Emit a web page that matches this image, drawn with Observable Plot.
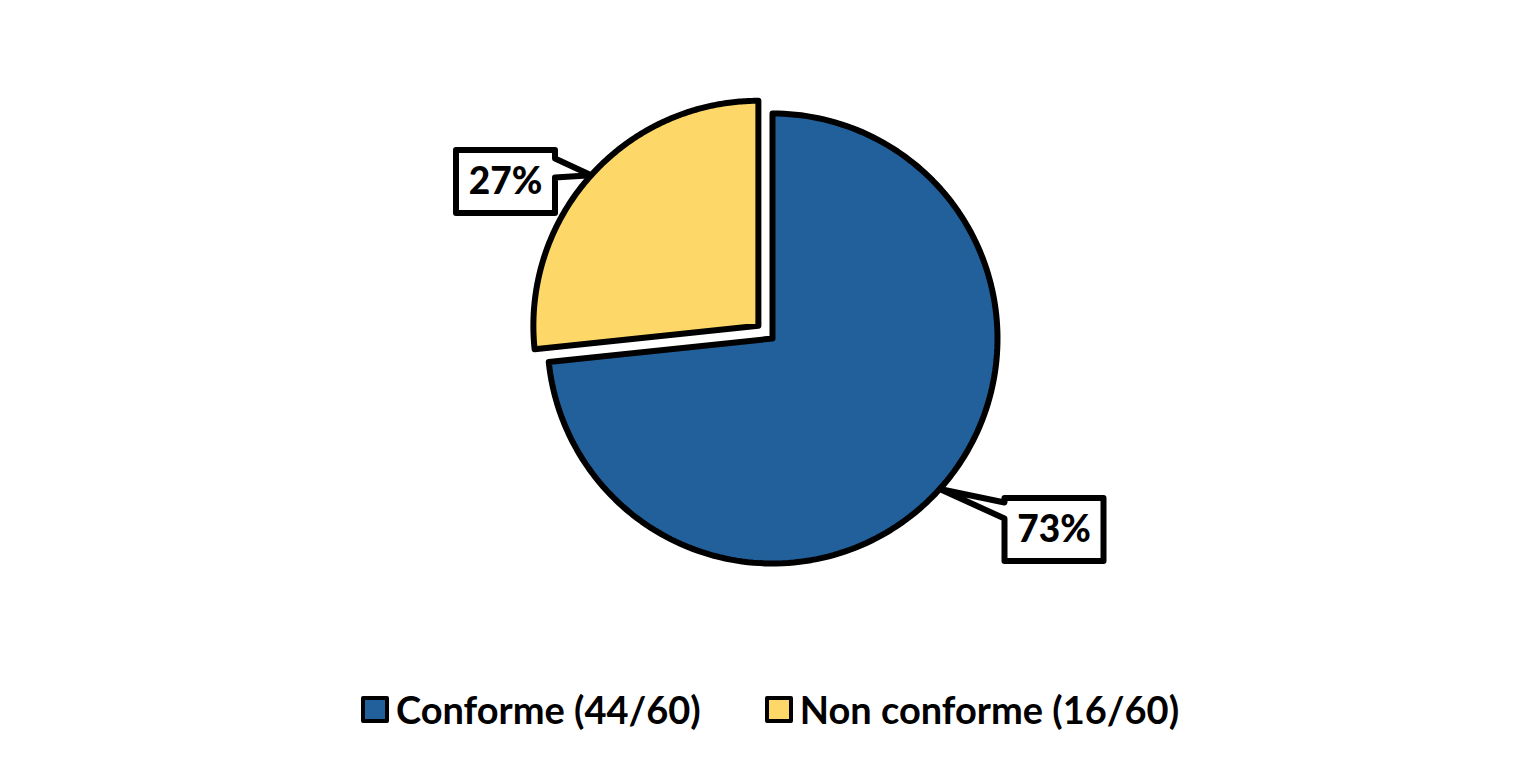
<!DOCTYPE html>
<html>
<head>
<meta charset="utf-8">
<script src="https://cdn.jsdelivr.net/npm/d3@7"></script>
<script src="https://cdn.jsdelivr.net/npm/@observablehq/plot@0.6"></script>
<style>
  html, body { margin: 0; padding: 0; background: #fff; }
  body { width: 1540px; height: 776px; overflow: hidden; font-family: Lato, "Open Sans", sans-serif; }
  #legend { display: flex; justify-content: center; align-items: center; margin-top: 30px; height: 38px; font-size: 38px; font-weight: bold; color: #000; }
  .item { display: flex; align-items: center; margin: 0 32px; }
  .sw { width: 20px; height: 19px; border: 4.5px solid #000; border-radius: 2px; margin-right: 7px; }
</style>
</head>
<body>
<div id="chart"></div>
<div id="legend"></div>
<script>
// ---- data ----
const categories = ["Conforme (44/60)", "Non conforme (16/60)"];
const values = [44, 16];
const pctLabels = ["73%", "27%"];
const colors = ["#22609b", "#fdd868"];

// ---- layout ----
const W = 1540, H = 660;
const cx = 772, cy = 338, R = 225;
const explode = [0, 19];
const labelCenters = [[1053.5, 529], [505, 181]];
const boxW = 99, boxH = 63;
const wedgeBase = [[-27, -11], [-23, -4]];

const arcs = d3.pie().sort(null)(values);
const slicePts = [];
const calloutPts = [];
const labels = [];
arcs.forEach((a, i) => {
  const mid = (a.startAngle + a.endAngle) / 2;
  const ox = cx + explode[i] * Math.sin(mid), oy = cy - explode[i] * Math.cos(mid);
  slicePts.push({k: i, x: ox, y: oy});
  const n = 180;
  for (let j = 0; j <= n; j++) {
    const t = a.startAngle + (a.endAngle - a.startAngle) * j / n;
    slicePts.push({k: i, x: ox + R * Math.sin(t), y: oy - R * Math.cos(t)});
  }
  const tip = [ox + R * Math.sin(mid), oy - R * Math.cos(mid)];
  const [lx, ly] = labelCenters[i];
  const x1 = lx - boxW / 2, x2 = lx + boxW / 2, y1 = ly - boxH / 2, y2 = ly + boxH / 2;
  const [b1, b2] = wedgeBase[i];
  let poly;
  if (tip[0] < x1) {
    poly = [[x1, y1], [x2, y1], [x2, y2], [x1, y2], [x1, ly + b2], tip, [x1, ly + b1]];
  } else {
    poly = [[x1, y1], [x2, y1], [x2, ly + b1], tip, [x2, ly + b2], [x2, y2], [x1, y2]];
  }
  poly.forEach(p => calloutPts.push({k: i, x: p[0], y: p[1]}));
  labels.push({x: lx, y: ly + 1, text: pctLabels[i]});
});

const marks = [];
arcs.forEach((a, i) => {
  marks.push(Plot.line(slicePts.filter(d => d.k === i), {
    x: "x", y: "y", curve: "linear-closed",
    fill: colors[i], stroke: "#000", strokeWidth: 6, strokeLinejoin: "round"
  }));
});
arcs.forEach((a, i) => {
  marks.push(Plot.line(calloutPts.filter(d => d.k === i), {
    x: "x", y: "y", curve: "linear-closed",
    fill: "#fff", stroke: "#000", strokeWidth: 6, strokeLinejoin: "round"
  }));
});
marks.push(Plot.text(labels, {
  x: "x", y: "y", text: "text", fontSize: 37, fontWeight: 900, fill: "#000",
  textAnchor: "middle"
}));

const plot = Plot.plot({
  width: W, height: H,
  margin: 0,
  x: {domain: [0, W], range: [0, W], axis: null},
  y: {domain: [0, H], range: [0, H], axis: null},
  style: {fontFamily: "Lato, 'Open Sans', sans-serif", background: "#fff", overflow: "visible"},
  marks
});
document.getElementById("chart").appendChild(plot);

const leg = document.getElementById("legend");
categories.forEach((c, i) => {
  const it = document.createElement("div");
  it.className = "item";
  const sw = document.createElement("div");
  sw.className = "sw";
  sw.style.background = colors[i];
  const tx = document.createElement("span");
  tx.textContent = c;
  it.appendChild(sw); it.appendChild(tx);
  leg.appendChild(it);
});
</script>
</body>
</html>
